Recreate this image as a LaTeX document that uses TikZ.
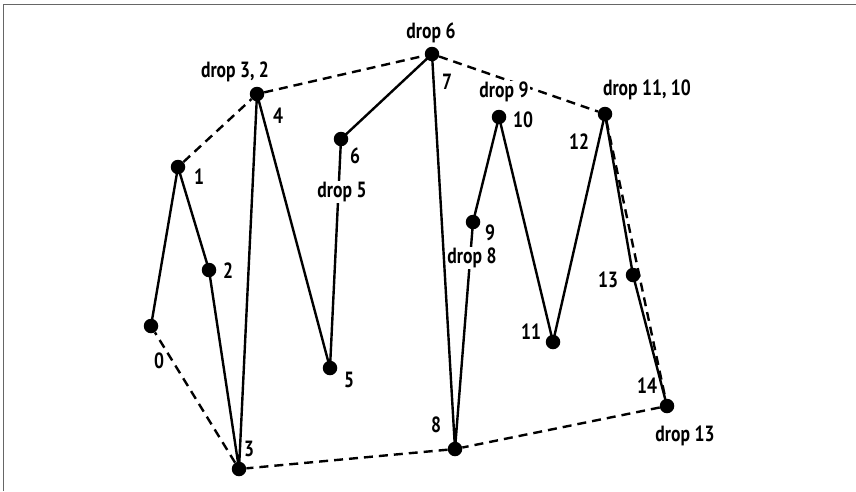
\documentclass[tikz,border=0pt]{standalone}
\usepackage{fontspec}
\setmainfont{PT Sans}[FakeStretch=0.8]
\begin{document}
\begin{tikzpicture}[x=1pt,y=-1pt,
  dot/.style={circle,fill=black,inner sep=0pt,minimum size=14.5pt},
  lab/.style={font=\fontsize{22}{24}\selectfont\bfseries,inner sep=1pt,fill=white},
  path/.style={line width=2.4pt,line join=round},
  hull/.style={line width=2.4pt,dash pattern=on 9pt off 6pt}]
\useasboundingbox (0,0) rectangle (856,491);
\draw[gray!80!black,line width=1.5pt] (3.5,491) -- (3.5,4.5) -- (856,4.5);
\node[dot] (p0) at (151,326) {};
\node[dot] (p1) at (178,167) {};
\node[dot] (p2) at (209,270) {};
\node[dot] (p3) at (239,469) {};
\node[dot] (p4) at (257,94) {};
\node[dot] (p5) at (330,368) {};
\node[dot] (p6) at (341,139) {};
\node[dot] (p7) at (432,54) {};
\node[dot] (p8) at (455,449) {};
\node[dot] (p9) at (473,222) {};
\node[dot] (p10) at (499,117) {};
\node[dot] (p11) at (553,342) {};
\node[dot] (p12) at (605,114) {};
\node[dot] (p13) at (633,275) {};
\node[dot] (p14) at (667,406) {};
\draw[path] (p0.center) -- (p1.center) -- (p2.center) -- (p3.center) -- (p4.center) -- (p5.center) -- (p6.center) -- (p7.center) -- (p8.center) -- (p9.center) -- (p10.center) -- (p11.center) -- (p12.center) -- (p13.center) -- (p14.center);
\draw[hull] (p1) -- (p4) -- (p7) -- (p12) -- (p14) -- (p8) -- (p3) -- (p0);
\node[lab] (l0) at (159,361) {0};
\node[lab] (l1) at (199,177) {1};
\node[lab] (l2) at (228,271) {2};
\node[lab] (l3) at (249,449) {3};
\node[lab] (l4) at (278,116) {4};
\node[lab] (l5) at (349,380) {5};
\node[lab] (l6) at (355,156) {6};
\node[lab] (l7) at (447,82) {7};
\node[lab] (l8) at (436,425) {8};
\node[lab] (l9) at (490,233) {9};
\node[lab] (l10) at (523,120) {10};
\node[lab] (l11) at (531,332) {11};
\node[lab] (l12) at (579,142) {12};
\node[lab] (l13) at (608,280) {13};
\node[lab] (l14) at (647,386) {14};
\node[lab] (d32) at (235,72) {drop 3, 2};
\node[lab] (d6) at (431,33) {drop 6};
\node[lab] (d9) at (504,92) {drop 9};
\node[lab] (d1110) at (647,90) {drop 11, 10};
\node[lab] (d5) at (342,192) {drop 5};
\node[lab] (d8) at (472,258) {drop 8};
\node[lab] (d13) at (685,436) {drop 13};
\end{tikzpicture}
\end{document}
